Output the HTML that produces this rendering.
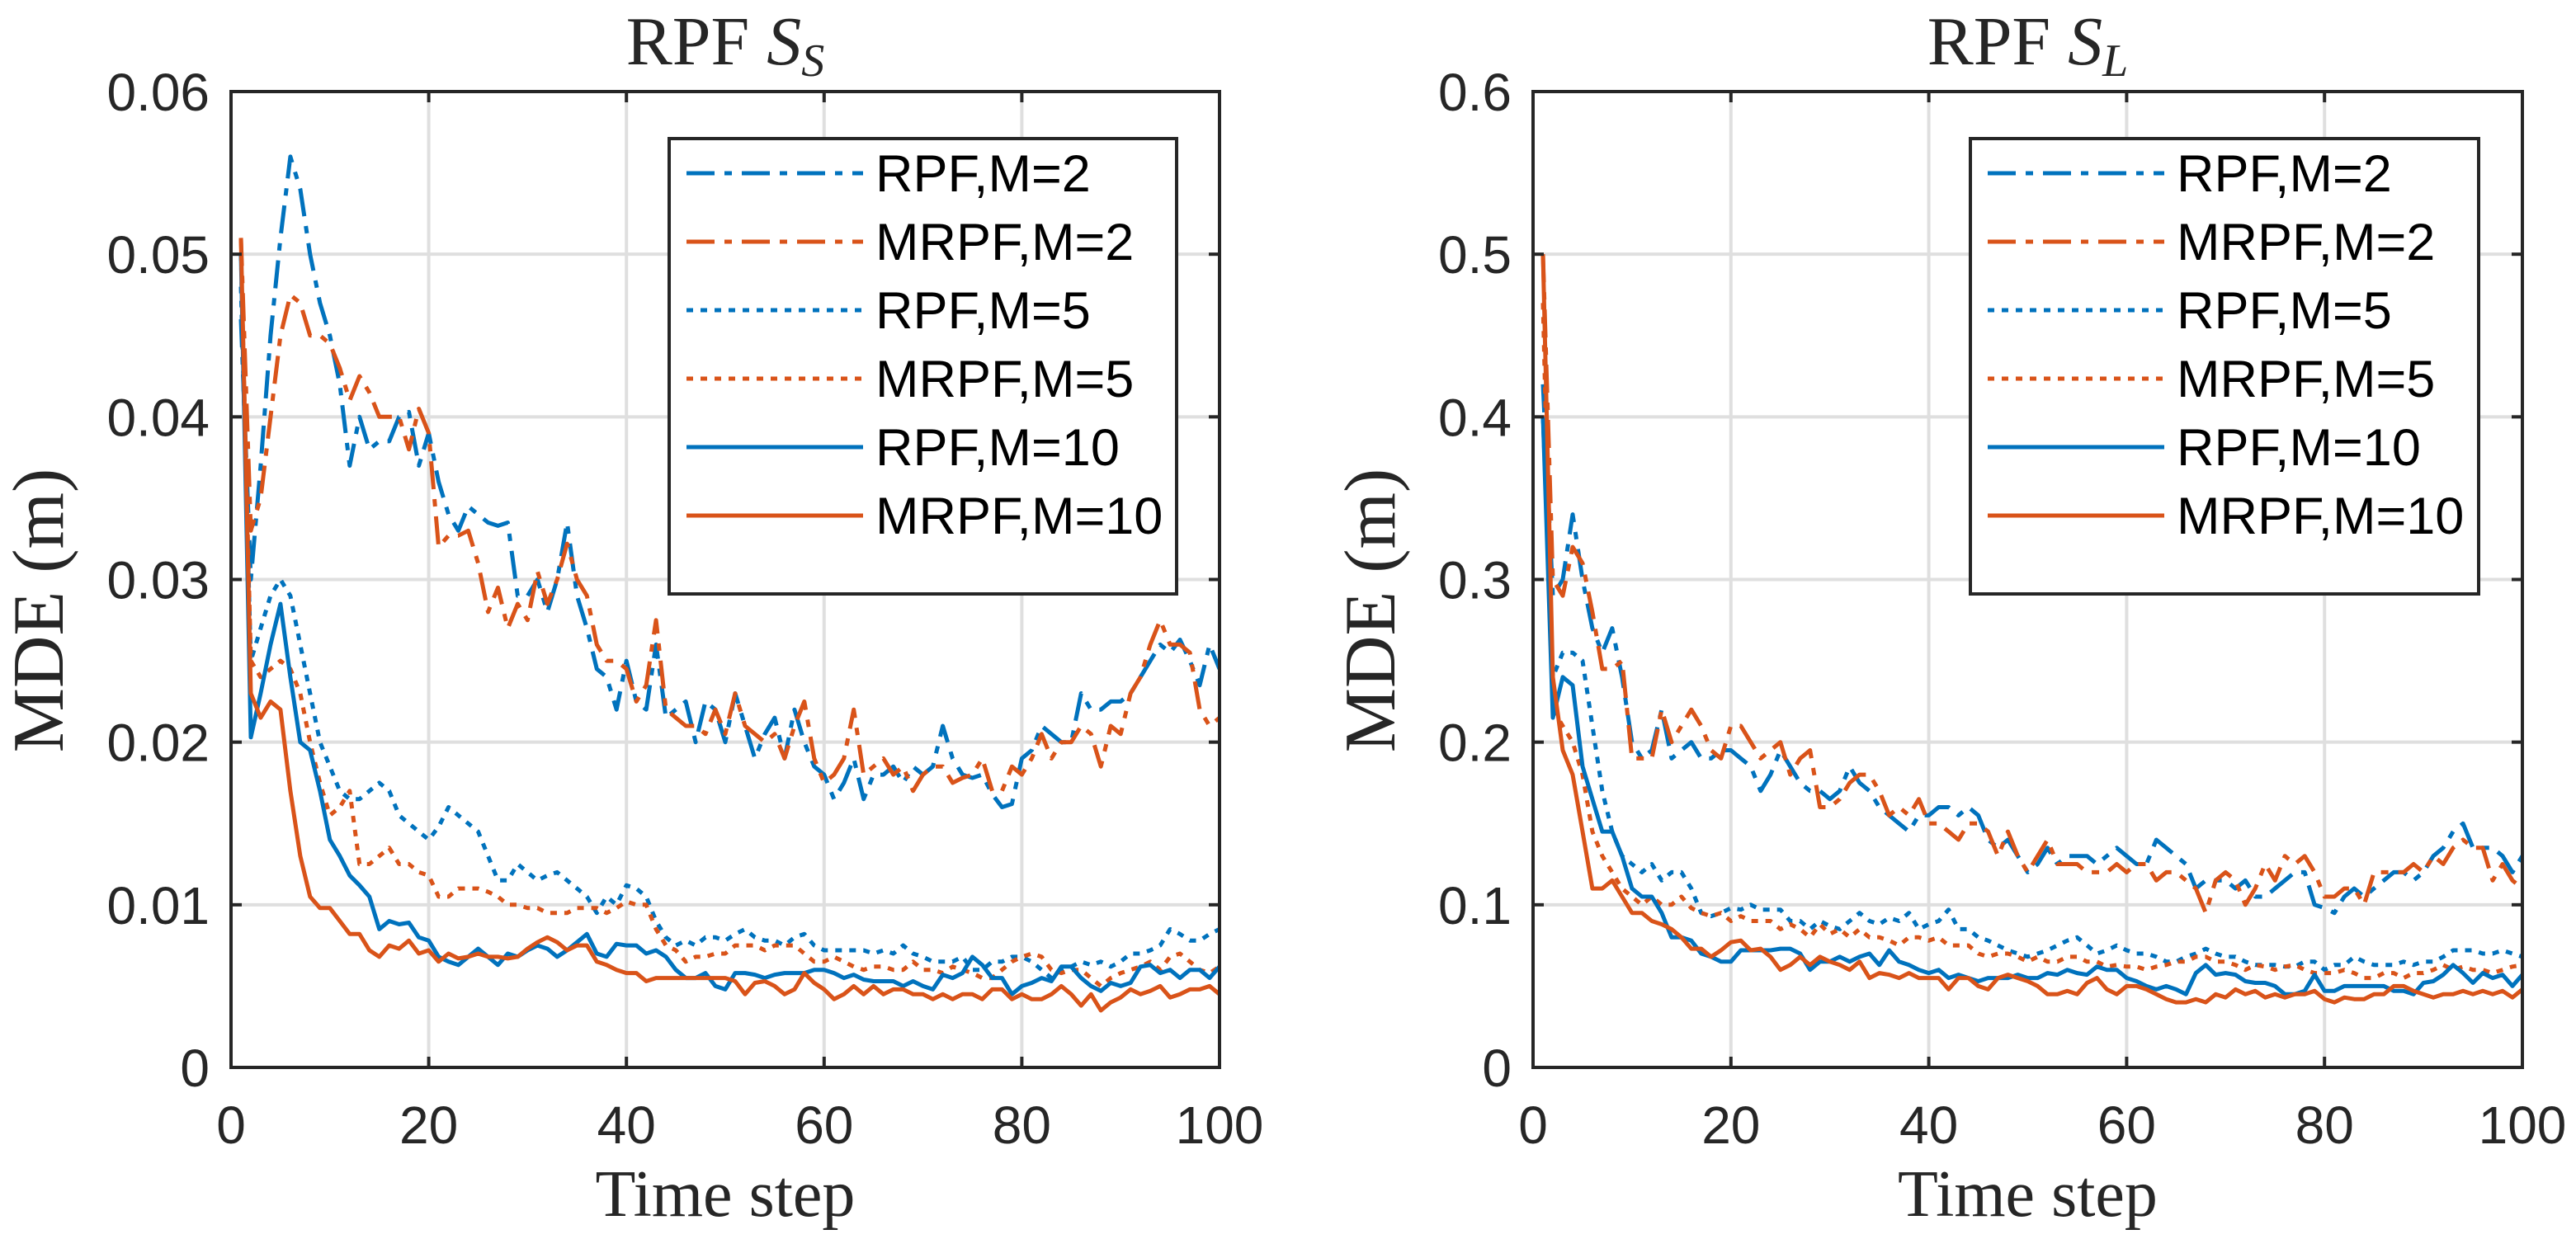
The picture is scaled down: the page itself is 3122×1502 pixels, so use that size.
<!DOCTYPE html>
<html><head><meta charset="utf-8"><style>
html,body{margin:0;padding:0;background:#fff;}
svg{display:block;}
.tk{font-family:"Liberation Sans",Arial,sans-serif;font-size:64px;fill:#262626;}
.lg{font-family:"Liberation Sans",Arial,sans-serif;font-size:63px;fill:#000;}
.sf{font-family:"Liberation Serif","Times New Roman",serif;fill:#262626;}
</style></head><body>
<svg id="fig" width="3122" height="1502" viewBox="0 0 3122 1502" xmlns="http://www.w3.org/2000/svg"></svg>
<script>
const steps = Array.from({length:100},(_,i)=>i+1);
const seriesNames = ["RPF,M=2","MRPF,M=2","RPF,M=5","MRPF,M=5","RPF,M=10","MRPF,M=10"];
const xTicks = [0,20,40,60,80,100];
const yTicksS = [0,0.01,0.02,0.03,0.04,0.05,0.06];
const yTickLabelsS = ["0","0.01","0.02","0.03","0.04","0.05","0.06"];
const yTicksL = [0,0.1,0.2,0.3,0.4,0.5,0.6];
const yTickLabelsL = ["0","0.1","0.2","0.3","0.4","0.5","0.6"];

// Left plot (S_S), values in units of 0.001
const sRpf2 = [46,30,37,45,51,56,54,50,47,45,42,37,40,38,38.5,38.5,40,40.3,37,39,36,34,33,34.5,34,33.5,33.3,33.5,29,29,30,28,30,33.5,29,27,24.5,24,22,25,22.5,22,26,21.5,22,22.5,20,22.5,22,20,23,21,19,20.5,21.5,19,22,20,18.5,18,16.5,17.5,19,16.5,18,18,18.5,17.5,18.5,18,18.5,21,19,18,17.8,18,16.8,16,16.2,19,19.5,21,20.5,20,20,23,22,22,22.5,22.5,23,24,25,26,25.5,26.3,25,23.5,26,24.5];
const sMrpf2 = [51,33,35,40,45,47.5,47,45,45,44.5,43,41,42.5,41.5,40,40,40,38,40.5,39,32,32.7,32.7,33,31,28,29.5,27,28.5,27.5,30.5,28.5,30,32.2,30,29,26,25,25,24.5,22.5,23.5,27.5,22,21.5,21,21,20.5,22,20.5,23,21,20.5,20,20.5,19,21,22.5,19,17.5,18,19,22,18,18.5,19,18,18.5,17,18,18.5,18.5,17.5,17.8,18,19,17,17,18.5,18,19,20.5,19,20,20,21,20.5,18.5,21,20.5,23,24,26,27.5,26,26,25.5,22,21,21.5];
const sRpf5 = [48,25,27,29,30,29,26,23,20,18.5,17,16.5,16.5,17,17.5,17,15.5,15,14.5,14,14.8,16,15.5,15,14.5,13,11.5,11.5,12.5,12,11.5,11.8,12,11.5,11,10.5,9.5,10.5,10,11.2,11,10.5,9,8,7.5,7.8,7.5,8,8,7.8,8.2,8.5,8,7.8,7.8,7.5,8,8.2,7.5,7.2,7.2,7.2,7.2,7.2,7,7.2,7,7.5,7,6.8,6.5,6.5,6.5,6.8,6,6,6.5,6.5,6.8,6.8,6.5,6,5.5,6,6.2,6.5,6.3,6.5,6.2,6.5,7,7,7.2,7.5,8.5,8.2,7.8,7.8,8.2,8.5];
const sMrpf5 = [50,25,24,24.5,25,24.5,23,20,17.5,15.5,16,17,12.5,12.5,13,13.5,12.5,12.5,12,11.8,10.5,10.5,11,11,11,10.8,10.5,10,10,9.8,9.8,9.5,9.5,9.5,9.8,9.8,9.8,9.5,9.8,10.2,10,10,8.5,7.5,7.2,6.5,6.8,6.8,7,7,7.5,7.5,7.5,7.2,7.5,7.5,7.5,7,6.5,6.5,6.8,6.5,6.2,6,6.2,6.2,6,6,6.5,6,6,5.8,6.2,6,5.8,5.5,5.5,6,6.5,6.8,7,6.8,6,5.8,6,6,5.5,5,5.5,5.8,6,6.2,6.5,6,6.8,7,6.5,6,5.8,6.2];
const sRpf10 = [50,20.3,23,26,28.5,24,20,19.5,17,14,13,11.8,11.2,10.5,8.5,9,8.8,8.9,8,7.8,6.8,6.5,6.3,6.8,7.3,6.8,6.3,7,6.8,7.2,7.5,7.3,6.8,7.2,7.7,8.2,7,6.8,7.6,7.5,7.5,7,7.2,6.8,6,5.5,5.5,5.8,5,4.8,5.8,5.8,5.7,5.5,5.7,5.8,5.8,5.8,6,6,5.8,5.5,5.7,5.4,5.3,5.3,5.3,5,5.3,5,4.8,5.7,5.5,5.8,6.8,6.3,5.5,5.5,4.5,5,5.2,5.5,5.3,6.2,6.2,5.5,5,4.7,5.2,5,5.2,6.2,6.3,5.8,6,5.5,6,6,5.5,6.2];
const sMrpf10 = [51,23,21.5,22.5,22,17,13,10.5,9.8,9.8,9,8.2,8.2,7.2,6.8,7.5,7.3,7.8,7,7.2,6.5,7,6.7,6.8,7,6.8,6.8,6.7,6.8,7.3,7.7,8,7.7,7.2,7.5,7.5,6.5,6.3,6,5.8,5.8,5.3,5.5,5.5,5.5,5.5,5.5,5.5,5.5,5.5,5.3,4.5,5.2,5.3,5,4.5,4.8,5.8,5.2,4.8,4.2,4.5,5,4.5,5,4.5,4.8,4.8,4.5,4.5,4.2,4.5,4.2,4.5,4.5,4.2,4.8,4.8,4.2,4.5,4.2,4.2,4.5,5,4.5,3.8,4.5,3.5,4,4.3,4.8,4.5,4.7,5,4.3,4.5,4.8,4.8,5,4.5];

// Right plot (S_L)
const lRpf2 = [0.42,0.29,0.30,0.34,0.30,0.27,0.255,0.27,0.24,0.20,0.19,0.195,0.22,0.19,0.195,0.20,0.19,0.19,0.195,0.195,0.19,0.185,0.17,0.18,0.195,0.185,0.175,0.17,0.17,0.165,0.17,0.185,0.175,0.17,0.16,0.155,0.15,0.145,0.155,0.155,0.16,0.16,0.155,0.16,0.155,0.14,0.135,0.14,0.13,0.12,0.125,0.135,0.125,0.13,0.13,0.13,0.125,0.13,0.135,0.13,0.125,0.125,0.14,0.135,0.13,0.125,0.11,0.115,0.115,0.115,0.11,0.115,0.105,0.105,0.11,0.115,0.12,0.12,0.10,0.098,0.095,0.105,0.11,0.105,0.11,0.115,0.12,0.12,0.115,0.12,0.13,0.135,0.145,0.15,0.135,0.135,0.135,0.13,0.12,0.13];
const lMrpf2 = [0.50,0.30,0.29,0.32,0.31,0.28,0.245,0.245,0.25,0.19,0.19,0.19,0.22,0.20,0.21,0.22,0.21,0.195,0.19,0.21,0.21,0.20,0.19,0.195,0.20,0.18,0.19,0.195,0.16,0.16,0.165,0.175,0.18,0.18,0.17,0.155,0.16,0.155,0.165,0.15,0.15,0.145,0.14,0.15,0.15,0.145,0.13,0.145,0.13,0.12,0.13,0.14,0.125,0.125,0.125,0.12,0.12,0.12,0.125,0.12,0.125,0.125,0.115,0.12,0.12,0.115,0.11,0.095,0.115,0.12,0.115,0.10,0.11,0.125,0.115,0.13,0.125,0.13,0.12,0.105,0.105,0.11,0.11,0.10,0.12,0.12,0.12,0.12,0.125,0.12,0.13,0.125,0.135,0.14,0.135,0.135,0.115,0.125,0.115,0.11];
const lRpf5 = [0.40,0.24,0.255,0.255,0.25,0.21,0.17,0.145,0.13,0.125,0.12,0.125,0.115,0.12,0.12,0.11,0.095,0.093,0.095,0.098,0.097,0.10,0.097,0.097,0.097,0.09,0.09,0.085,0.09,0.087,0.085,0.09,0.095,0.09,0.088,0.092,0.09,0.095,0.085,0.088,0.09,0.097,0.085,0.085,0.08,0.078,0.075,0.072,0.07,0.068,0.07,0.072,0.075,0.078,0.08,0.075,0.07,0.072,0.075,0.072,0.07,0.07,0.068,0.065,0.065,0.068,0.07,0.073,0.07,0.068,0.068,0.065,0.063,0.063,0.063,0.062,0.062,0.065,0.065,0.06,0.063,0.063,0.068,0.065,0.063,0.063,0.063,0.065,0.063,0.065,0.065,0.068,0.072,0.072,0.072,0.07,0.07,0.072,0.07,0.068];
const lMrpf5 = [0.47,0.22,0.21,0.20,0.18,0.145,0.13,0.12,0.11,0.105,0.10,0.105,0.10,0.10,0.105,0.098,0.095,0.093,0.095,0.09,0.093,0.09,0.09,0.09,0.085,0.088,0.085,0.08,0.088,0.082,0.085,0.08,0.085,0.08,0.08,0.078,0.075,0.08,0.08,0.078,0.08,0.075,0.075,0.075,0.07,0.068,0.07,0.07,0.068,0.065,0.068,0.065,0.065,0.068,0.068,0.065,0.065,0.062,0.063,0.062,0.062,0.06,0.062,0.063,0.065,0.065,0.068,0.068,0.065,0.065,0.063,0.06,0.063,0.062,0.06,0.062,0.063,0.06,0.058,0.058,0.058,0.06,0.058,0.055,0.055,0.058,0.058,0.055,0.058,0.058,0.06,0.063,0.06,0.062,0.06,0.06,0.058,0.06,0.062,0.063];
const lRpf10 = [0.40,0.215,0.24,0.235,0.185,0.165,0.145,0.145,0.13,0.11,0.105,0.105,0.095,0.08,0.08,0.078,0.07,0.068,0.065,0.065,0.072,0.072,0.072,0.072,0.073,0.073,0.07,0.06,0.065,0.065,0.068,0.065,0.068,0.07,0.063,0.072,0.065,0.063,0.06,0.058,0.06,0.055,0.057,0.055,0.053,0.055,0.055,0.055,0.057,0.055,0.055,0.058,0.057,0.06,0.058,0.057,0.062,0.06,0.06,0.055,0.053,0.05,0.048,0.05,0.048,0.045,0.058,0.063,0.057,0.058,0.057,0.053,0.052,0.052,0.05,0.045,0.045,0.047,0.057,0.047,0.047,0.05,0.05,0.05,0.05,0.05,0.047,0.047,0.045,0.052,0.053,0.057,0.063,0.058,0.052,0.058,0.055,0.057,0.05,0.057];
const lMrpf10 = [0.50,0.24,0.195,0.18,0.145,0.11,0.11,0.115,0.105,0.095,0.095,0.09,0.088,0.085,0.08,0.073,0.073,0.068,0.072,0.077,0.078,0.072,0.073,0.068,0.06,0.063,0.068,0.063,0.068,0.065,0.063,0.06,0.065,0.055,0.058,0.057,0.055,0.058,0.055,0.055,0.055,0.048,0.055,0.055,0.05,0.048,0.055,0.057,0.055,0.053,0.05,0.045,0.045,0.047,0.045,0.052,0.055,0.048,0.045,0.05,0.05,0.048,0.045,0.042,0.04,0.04,0.042,0.04,0.045,0.043,0.048,0.045,0.047,0.043,0.045,0.043,0.045,0.045,0.047,0.042,0.04,0.043,0.042,0.042,0.045,0.045,0.05,0.05,0.047,0.045,0.043,0.045,0.045,0.047,0.045,0.047,0.045,0.047,0.043,0.048];

const NS="http://www.w3.org/2000/svg";
const svg=document.getElementById('fig');
const BLUE="#0072BD", ORANGE="#D95319";
const styles=[{c:BLUE,d:"34 12 9 12"},{c:ORANGE,d:"34 12 9 12"},{c:BLUE,d:"8 9"},{c:ORANGE,d:"8 9"},{c:BLUE,d:""},{c:ORANGE,d:""}];
function mk(tag,attrs,parent){const e=document.createElementNS(NS,tag);for(const k in attrs)e.setAttribute(k,attrs[k]);(parent||svg).appendChild(e);return e;}

function drawPanel(cfg){
  const g=mk('g',{});
  
  
  const L=cfg.x0,R=cfg.x1,T=111,B=1294;
  const xs=v=>L+(v-0)/(100-0)*(R-L);
  const ys=v=>B-(v-0)/(cfg.ymax)*(B-T);
  xTicks.forEach(t=>{if(t>0&&t<100){const l=mk('line',{x1:xs(t),x2:xs(t),y1:T,y2:B,stroke:'#dfdfdf','stroke-width':4},g);}});
  cfg.yt.forEach(t=>{if(t>0&&t<cfg.ymax-1e-9){const l=mk('line',{x1:L,x2:R,y1:ys(t),y2:ys(t),stroke:'#dfdfdf','stroke-width':4},g);}});
  const clip='clip'+cfg.name;
  const cp=mk('clipPath',{id:clip},g);mk('rect',{x:L,y:T,width:R-L,height:B-T},cp);
  cfg.series.forEach((arr,i)=>{
    const pts=arr.map((v,j)=>xs(steps[j]).toFixed(1)+','+ys(v*cfg.unit).toFixed(1)).join(' ');
    const p=mk('polyline',{points:pts,fill:'none',stroke:styles[i].c,'stroke-width':5,'stroke-linejoin':'round','clip-path':'url(#'+clip+')'},g);
    if(styles[i].d)p.setAttribute('stroke-dasharray',styles[i].d);
    
    
  });
  const bx=mk('rect',{x:L,y:T,width:R-L,height:B-T,fill:'none',stroke:'#262626','stroke-width':4},g);
  
  xTicks.forEach((t,i)=>{
    mk('line',{x1:xs(t),x2:xs(t),y1:B,y2:B-13,stroke:'#262626','stroke-width':4},g);
    mk('line',{x1:xs(t),x2:xs(t),y1:T,y2:T+13,stroke:'#262626','stroke-width':4},g);
    const tx=mk('text',{x:xs(t),y:1386,'text-anchor':'middle',class:'tk'},g);tx.textContent=String(t);
    
  });
  cfg.yt.forEach((t,i)=>{
    mk('line',{x1:L,x2:L+13,y1:ys(t),y2:ys(t),stroke:'#262626','stroke-width':4},g);
    mk('line',{x1:R,x2:R-13,y1:ys(t),y2:ys(t),stroke:'#262626','stroke-width':4},g);
    const tx=mk('text',{x:L-26,y:ys(t)+23,'text-anchor':'end',class:'tk'},g);tx.textContent=cfg.ytl[i];
    
  });
  const ti=mk('text',{x:(L+R)/2,y:78,'text-anchor':'middle',class:'sf','font-size':84},g);
  ti.innerHTML='RPF <tspan font-style="italic">S</tspan><tspan font-style="italic" font-size="56" dy="14">'+cfg.sub+'</tspan>';
  
  const xl=mk('text',{x:(L+R)/2,y:1474,'text-anchor':'middle',class:'sf','font-size':80},g);xl.textContent='Time step';
  
  const yl=mk('text',{x:0,y:0,'text-anchor':'middle',class:'sf','font-size':88,transform:'translate('+(cfg.ylx)+',740) rotate(-90)'},g);yl.textContent='MDE (m)';
  
  const lg=mk('g',{},g);
  const lb=mk('rect',{x:cfg.lx0,y:168,width:cfg.lx1-cfg.lx0,height:552,fill:'#fff',stroke:'#262626','stroke-width':4},lg);
  
  seriesNames.forEach((n,i)=>{
    const y=210+i*83;
    const en=mk('g',{},lg);
    const ln=mk('line',{x1:cfg.lx0+21,x2:cfg.lx0+235,y1:y,y2:y,stroke:styles[i].c,'stroke-width':5},en);
    if(styles[i].d)ln.setAttribute('stroke-dasharray',styles[i].d);
    const t=mk('text',{x:cfg.lx0+250,y:y+22,class:'lg'},en);t.textContent=n;
  });
}
drawPanel({name:'panel-ss',x0:280,x1:1478,ymax:0.06,unit:0.001,yt:yTicksS,ytl:yTickLabelsS,sub:'S',ylx:76,lx0:811,lx1:1426,series:[sRpf2,sMrpf2,sRpf5,sMrpf5,sRpf10,sMrpf10]});
drawPanel({name:'panel-sl',x0:1858,x1:3057,ymax:0.6,unit:1,yt:yTicksL,ytl:yTickLabelsL,sub:'L',ylx:1690,lx0:2388,lx1:3004,series:[lRpf2,lMrpf2,lRpf5,lMrpf5,lRpf10,lMrpf10]});
</script>
</body></html>
